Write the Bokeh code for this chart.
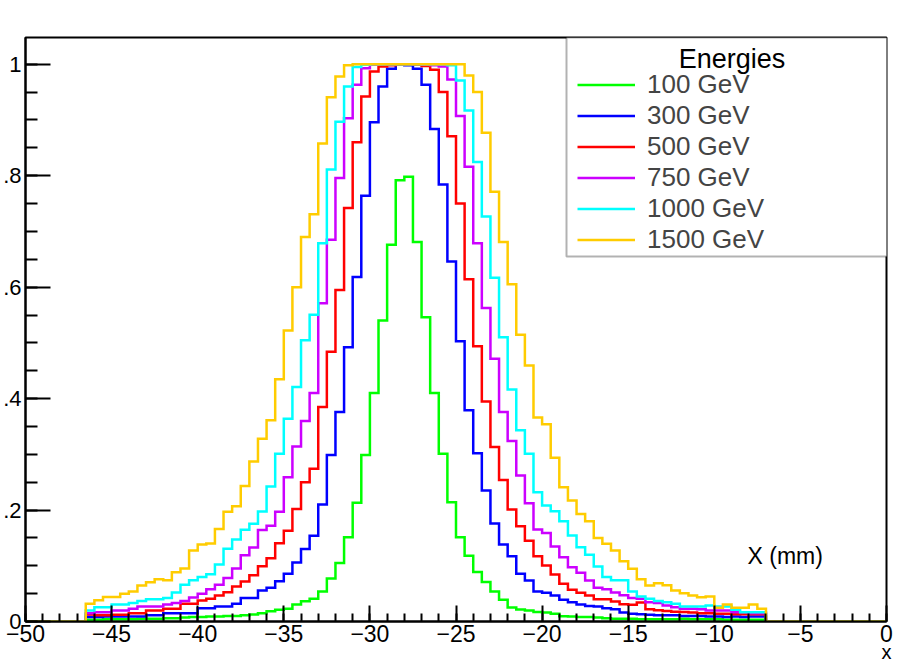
import numpy as np
from bokeh.plotting import figure
from bokeh.models import Range1d, FixedTicker, Legend, LegendItem, Label, BoxAnnotation
from bokeh.embed import file_html
from bokeh.resources import INLINE

# ---------------- data ----------------
x_min, x_max = -50.0, 0.0
bin_width = 0.5
first_filled_bin = 7          # first non-empty bin starts at x = -46.5

energy_labels = ["100 GeV", "300 GeV", "500 GeV", "750 GeV", "1000 GeV", "1500 GeV"]
colors = ["#00ff00", "#0000ff", "#ff0000", "#cc00ff", "#00ffff", "#ffcc00"]

h100 = [0.003, 0.003, 0.004, 0.004, 0.004, 0.004, 0.005, 0.005, 0.005, 0.006,
        0.006, 0.007, 0.008, 0.008, 0.009, 0.009, 0.010, 0.010, 0.011, 0.0126,
        0.015, 0.0185, 0.021, 0.023, 0.0305, 0.0365, 0.041, 0.054, 0.077, 0.105,
        0.151, 0.213, 0.299, 0.410, 0.540, 0.676, 0.792, 0.798, 0.681, 0.546,
        0.410, 0.301, 0.214, 0.151, 0.118, 0.089, 0.071, 0.054, 0.039, 0.025,
        0.0215, 0.0197, 0.017, 0.016, 0.0138, 0.0095, 0.009, 0.008, 0.008, 0.007,
        0.006, 0.005, 0.005, 0.005, 0.004, 0.004, 0.004, 0.004, 0.004, 0.005,
        0.004, 0.004, 0.004, 0.004, 0.003, 0.003, 0.003, 0.003, 0.003]

h300 = [0.008, 0.008, 0.009, 0.009, 0.009, 0.009, 0.009, 0.011, 0.011, 0.015,
        0.015, 0.015, 0.015, 0.024, 0.024, 0.027, 0.027, 0.032, 0.042, 0.042,
        0.0557, 0.0605, 0.0724, 0.0856, 0.106, 0.130, 0.154, 0.210, 0.299, 0.376,
        0.492, 0.618, 0.764, 0.896, 0.960, 0.992, 1.000, 0.998, 0.992, 0.963,
        0.884, 0.784, 0.646, 0.503, 0.379, 0.302, 0.235, 0.176, 0.138, 0.117,
        0.0856, 0.0736, 0.054, 0.0515, 0.0467, 0.039, 0.0347, 0.0305, 0.028, 0.027,
        0.024, 0.022, 0.016, 0.0138, 0.013, 0.012, 0.011, 0.011, 0.011, 0.010,
        0.010, 0.010, 0.009, 0.009, 0.008, 0.009, 0.008, 0.009, 0.009]

h500 = [0.0126, 0.011, 0.011, 0.012, 0.012, 0.015, 0.015, 0.0197, 0.0197, 0.0228,
        0.0228, 0.0318, 0.0318, 0.0377, 0.0407, 0.0467, 0.0527, 0.063, 0.072, 0.083,
        0.0993, 0.1137, 0.1406, 0.163, 0.202, 0.250, 0.274, 0.385, 0.484, 0.595,
        0.742, 0.860, 0.942, 0.987, 0.996, 0.998, 1.000, 1.000, 0.999, 0.997,
        0.990, 0.950, 0.871, 0.750, 0.614, 0.494, 0.395, 0.313, 0.254, 0.201,
        0.171, 0.145, 0.117, 0.1005, 0.0844, 0.0677, 0.057, 0.0515, 0.0467, 0.040,
        0.040, 0.036, 0.031, 0.030, 0.034, 0.022, 0.020, 0.019, 0.0175, 0.017,
        0.016, 0.015, 0.015, 0.014, 0.014, 0.013, 0.013, 0.013, 0.013]

h750 = [0.015, 0.0168, 0.0168, 0.0197, 0.0197, 0.0228, 0.027, 0.027, 0.027, 0.0305,
        0.033, 0.037, 0.043, 0.050, 0.058, 0.066, 0.078, 0.095, 0.119, 0.133,
        0.164, 0.172, 0.197, 0.259, 0.314, 0.360, 0.410, 0.571, 0.685, 0.796,
        0.903, 0.963, 0.993, 0.999, 1.000, 1.000, 1.000, 1.000, 1.000, 0.999,
        0.998, 0.996, 0.9725, 0.907, 0.816, 0.679, 0.5625, 0.4716, 0.376, 0.324,
        0.262, 0.212, 0.165, 0.1586, 0.1346, 0.1155, 0.0975, 0.0874, 0.0736, 0.0605,
        0.058, 0.052, 0.047, 0.042, 0.0407, 0.0347, 0.033, 0.0287, 0.0257, 0.0228,
        0.0228, 0.022, 0.0197, 0.0197, 0.0197, 0.0168, 0.0168, 0.015, 0.015]

h1000 = [0.0197, 0.0257, 0.0257, 0.0305, 0.0305, 0.033, 0.037, 0.040, 0.040, 0.042,
         0.052, 0.066, 0.074, 0.080, 0.085, 0.1023, 0.1305, 0.147, 0.1646, 0.1754,
         0.1975, 0.2424, 0.301, 0.364, 0.4207, 0.5045, 0.5506, 0.679, 0.811, 0.897,
         0.960, 0.995, 0.999, 1.000, 1.000, 1.000, 1.000, 1.000, 1.000, 1.000,
         1.000, 1.000, 0.998, 0.971, 0.917, 0.8246, 0.727, 0.617, 0.510, 0.4165,
         0.343, 0.301, 0.232, 0.208, 0.198, 0.180, 0.1544, 0.1334, 0.1197, 0.0987,
         0.080, 0.074, 0.074, 0.054, 0.045, 0.041, 0.037, 0.0347, 0.0318, 0.027,
         0.027, 0.027, 0.0287, 0.027, 0.027, 0.021, 0.0168, 0.0168, 0.0168]

h1500 = [0.032, 0.038, 0.044, 0.044, 0.050, 0.054, 0.0646, 0.0706, 0.076, 0.074,
         0.0886, 0.095, 0.1275, 0.138, 0.140, 0.166, 0.197, 0.207, 0.243, 0.287,
         0.328, 0.361, 0.4345, 0.522, 0.600, 0.690, 0.731, 0.858, 0.941, 0.978,
         0.998, 1.000, 1.000, 1.000, 1.000, 1.000, 1.000, 1.000, 1.000, 1.000,
         1.000, 1.000, 1.000, 1.000, 0.980, 0.950, 0.877, 0.771, 0.681, 0.605,
         0.5147, 0.4596, 0.366, 0.354, 0.294, 0.241, 0.217, 0.193, 0.180, 0.150,
         0.1395, 0.1275, 0.108, 0.0946, 0.076, 0.0646, 0.0688, 0.065, 0.0557, 0.0509,
         0.0467, 0.0437, 0.0449, 0.0246, 0.0305, 0.0246, 0.0246, 0.0305, 0.0228]

series = [h100, h300, h500, h750, h1000, h1500]

x_tick_vals = [-50, -45, -40, -35, -30, -25, -20, -15, -10, -5, 0]
x_tick_labels = ["\u221250", "\u221245", "\u221240", "\u221235", "\u221230", "\u221225",
                 "\u221220", "\u221215", "\u221210", "\u22125", "0"]
y_tick_vals = [0, 0.2, 0.4, 0.6, 0.8, 1.0]
y_tick_labels = ["0", ".2", ".4", ".6", ".8", "1"]

legend_title = "Energies"
axis_note = "X (mm)"
axis_title = "x"

# ---------------- build ----------------
n_bins = int(round((x_max - x_min) / bin_width))
edges = x_min + bin_width * np.arange(n_bins + 1)

def hist_y(vals):
    full = np.zeros(n_bins)
    full[first_filled_bin:first_filled_bin + len(vals)] = vals
    return np.append(full, full[-1])

FONT = "Liberation Sans"

p = figure(width=903, height=667, x_range=Range1d(x_min, x_max), y_range=Range1d(0, 1.048),
           output_backend="svg", toolbar_location=None,
           min_border_left=23, min_border_right=17, min_border_top=37, min_border_bottom=46)
p.background_fill_color = "white"
p.border_fill_color = "white"
p.grid.visible = False
p.outline_line_color = "black"
p.outline_line_width = 2

# x axis
p.xaxis.ticker = FixedTicker(ticks=x_tick_vals, minor_ticks=list(np.arange(x_min, x_max + 0.5, 1.0)))
p.xaxis.major_label_overrides = {v: t for v, t in zip(x_tick_vals, x_tick_labels)}
p.xaxis.major_label_text_font = FONT
p.xaxis.major_label_text_font_size = "23px"
p.xaxis.major_label_text_color = "black"
p.xaxis.major_label_standoff = 3
p.xaxis.major_tick_in = 16
p.xaxis.major_tick_out = 0
p.xaxis.minor_tick_in = 8
p.xaxis.minor_tick_out = 0
p.xaxis.axis_label = axis_title
p.xaxis.axis_label_align = "end"
p.xaxis.axis_label_standoff = -4
p.xaxis.axis_label_text_font = FONT
p.xaxis.axis_label_text_font_size = "20px"
p.xaxis.axis_label_text_font_style = "normal"
p.xaxis.axis_label_text_color = "black"

# y axis
p.yaxis.ticker = FixedTicker(ticks=y_tick_vals, minor_ticks=list(np.arange(0, 1.05, 0.05)))
p.yaxis.major_label_overrides = {v: t for v, t in zip(y_tick_vals, y_tick_labels)}
p.yaxis.major_label_text_font = FONT
p.yaxis.major_label_text_font_size = "22px"
p.yaxis.major_label_text_color = "black"
p.yaxis.major_label_standoff = 4
p.yaxis.major_tick_in = 25
p.yaxis.major_tick_out = 0
p.yaxis.minor_tick_in = 12
p.yaxis.minor_tick_out = 0

for ax in (p.xaxis, p.yaxis):
    ax.axis_line_width = 2
    ax.axis_line_color = "black"
    ax.major_tick_line_width = 2
    ax.minor_tick_line_width = 2
    ax.major_tick_line_color = "black"
    ax.minor_tick_line_color = "black"

renderers = []
for vals, col in zip(series, colors):
    r = p.step(edges, hist_y(vals), mode="after", line_color=col, line_width=2.5,
               line_join="miter")
    renderers.append(r)

dot = p.scatter(x=[], y=[], marker="dot", size=10, color="black")

# legend box
p.add_layout(BoxAnnotation(left=541, right=864, top=584, bottom=365,
                           left_units="screen", right_units="screen",
                           top_units="screen", bottom_units="screen",
                           fill_color="white", fill_alpha=1.0,
                           line_color="black", line_width=2))

items = [LegendItem(label=lab, renderers=[r, dot]) for lab, r in zip(energy_labels, renderers)]
legend = Legend(items=items, location=(552, 366.5), orientation="vertical",
                padding=0, spacing=0, margin=0,
                label_height=31, glyph_height=31, glyph_width=58, label_standoff=12,
                label_text_font=FONT, label_text_font_size="26px",
                border_line_color=None, background_fill_alpha=0.0)
p.add_layout(legend)

p.add_layout(Label(x=706.5, y=563, x_units="screen", y_units="screen", text=legend_title,
                   text_align="center", text_baseline="alphabetic",
                   text_font=FONT, text_font_size="27px", text_color="black"))

p.add_layout(Label(x=722, y=66, x_units="screen", y_units="screen", text=axis_note,
                   text_align="left", text_baseline="alphabetic",
                   text_font=FONT, text_font_size="23px", text_color="black"))

open("out.html", "w").write(file_html(p, INLINE))
